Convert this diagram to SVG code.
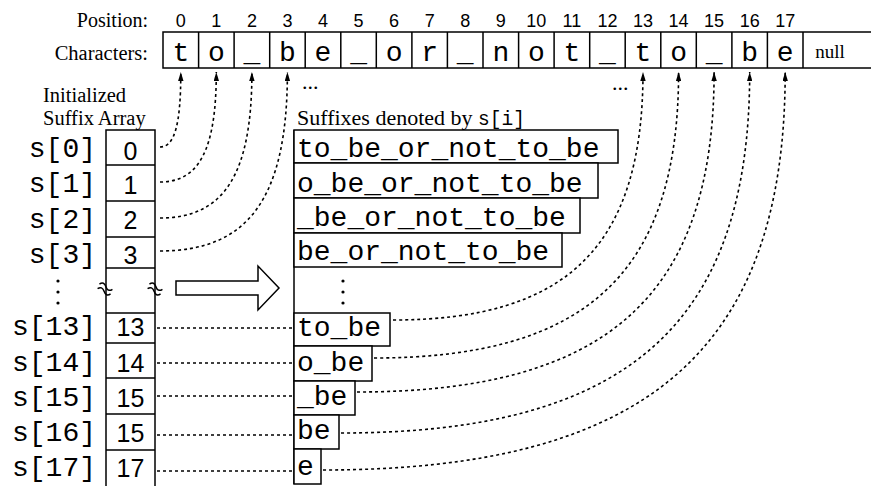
<svg xmlns="http://www.w3.org/2000/svg" width="871" height="486" viewBox="0 0 871 486">
<style>
.box{fill:#fff;stroke:#000;stroke-width:1.5}
.ln{fill:none;stroke:#000;stroke-width:1.5}
.dot{fill:none;stroke:#000;stroke-width:1.6;stroke-dasharray:3 3}
.ser{font-family:"Liberation Serif","Times New Roman",serif;fill:#000}
.mono{font-family:"Liberation Mono","Courier New",monospace;fill:#000}
.sans{font-family:"Liberation Sans",Arial,sans-serif;fill:#000}
.pos{font-size:18px;text-anchor:middle}
.ch{font-size:28px;text-anchor:middle}
.num{font-size:25px;text-anchor:middle}
.lab{font-size:28px;text-anchor:end}
.suf{font-size:28px}
</style>
<defs>
<marker id="ah" markerUnits="userSpaceOnUse" markerWidth="9" markerHeight="5.4" viewBox="0 0 10 6" refX="10" refY="3" orient="auto"><path d="M0,0 L10,3 L0,6 z" fill="#000"/></marker>
<path id="brk" d="M-7,-2.5c2,-3 4.5,-3 7,0s5,3 7,0M-7,2.5c2,-3 4.5,-3 7,0s5,3 7,0" fill="none" stroke="#000" stroke-width="1.5"/>
</defs>
<rect width="871" height="486" fill="#fff"/>

<g id="labels">
<text class="ser" x="148" y="27" font-size="20" text-anchor="end">Position:</text>
<text class="ser" x="148" y="60" font-size="20.5" text-anchor="end">Characters:</text>
<text class="ser" x="43" y="102" font-size="20.5">Initialized</text>
<text class="ser" x="43" y="125" font-size="20.5">Suffix Array</text>
<text class="ser" x="297" y="125" font-size="22">Suffixes denoted by <tspan class="mono" font-size="19.5">s[i]</tspan></text>
<text class="ser" x="302" y="89" font-size="22">...</text>
<text class="ser" x="612" y="90" font-size="22">...</text>
</g>

<g id="positions" class="sans pos">
<text x="180.8" y="27">0</text><text x="216.3" y="27">1</text><text x="251.9" y="27">2</text><text x="287.4" y="27">3</text>
<text x="323" y="27">4</text><text x="358.6" y="27">5</text><text x="394.1" y="27">6</text><text x="429.7" y="27">7</text>
<text x="465.2" y="27">8</text><text x="500.8" y="27">9</text><text x="536.3" y="27">10</text><text x="571.9" y="27">11</text>
<text x="607.4" y="27">12</text><text x="643" y="27">13</text><text x="678.6" y="27">14</text><text x="714.1" y="27">15</text>
<text x="749.7" y="27">16</text><text x="785.2" y="27">17</text>
</g>

<g id="characters">
<rect class="box" x="163" y="32" width="712" height="36"/>
<path class="ln" d="M198.6,32V68M234.1,32V68M269.7,32V68M305.2,32V68M340.8,32V68M376.3,32V68M411.9,32V68M447.4,32V68M483,32V68M518.6,32V68M554.1,32V68M589.7,32V68M625.2,32V68M660.8,32V68M696.3,32V68M731.9,32V68M767.4,32V68M803,32V68"/>
<g class="mono ch">
<text x="180.8" y="61">t</text><text x="216.3" y="61">o</text><text x="251.9" y="61">_</text><text x="287.4" y="61">b</text>
<text x="323" y="61">e</text><text x="358.6" y="61">_</text><text x="394.1" y="61">o</text><text x="429.7" y="61">r</text>
<text x="465.2" y="61">_</text><text x="500.8" y="61">n</text><text x="536.3" y="61">o</text><text x="571.9" y="61">t</text>
<text x="607.4" y="61">_</text><text x="643" y="61">t</text><text x="678.6" y="61">o</text><text x="714.1" y="61">_</text>
<text x="749.7" y="61">b</text><text x="785.2" y="61">e</text>
</g>
<text class="ser" x="830" y="58" font-size="19" text-anchor="middle">null</text>
</g>

<g id="suffix-array">
<rect class="box" x="106" y="130" width="49" height="360"/>
<path class="ln" d="M106,165H155M106,201H155M106,237H155M106,268H155M106,313H155M106,343H155M106,378H155M106,414H155M106,450H155"/>
<g class="sans num">
<text x="130.5" y="160">0</text><text x="130.5" y="194">1</text><text x="130.5" y="229">2</text><text x="130.5" y="264">3</text>
<text x="130.5" y="336">13</text><text x="130.5" y="372">14</text><text x="130.5" y="407">15</text><text x="130.5" y="442">15</text><text x="130.5" y="477">17</text>
</g>
<use href="#brk" transform="translate(105,289) rotate(22)"/>
<use href="#brk" transform="translate(155,289) rotate(22)"/>
</g>

<g id="index-labels" class="mono lab">
<text x="96" y="157">s[0]</text><text x="96" y="192">s[1]</text><text x="96" y="228">s[2]</text><text x="96" y="263">s[3]</text>
<text x="96" y="335">s[13]</text><text x="96" y="371">s[14]</text><text x="96" y="406">s[15]</text><text x="96" y="441">s[16]</text><text x="96" y="476">s[17]</text>
<circle cx="58" cy="281" r="1.6"/><circle cx="58" cy="292" r="1.6"/><circle cx="58" cy="303" r="1.6"/>
</g>

<g id="arrow">
<polygon class="box" points="176,281 258,281 258,266 279,288 258,310 258,295 176,295"/>
</g>

<g id="suffixes">
<path class="ln" d="M294,130V484"/>
<rect class="box" x="294" y="130" width="324" height="33"/>
<rect class="box" x="294" y="163" width="304" height="35"/>
<rect class="box" x="294" y="198" width="286" height="35"/>
<rect class="box" x="294" y="233" width="268" height="34"/>
<rect class="box" x="294" y="313" width="96" height="33"/>
<rect class="box" x="294" y="346" width="78" height="35"/>
<rect class="box" x="294" y="381" width="61" height="34"/>
<rect class="box" x="294" y="415" width="45" height="34"/>
<rect class="box" x="294" y="449" width="27" height="35"/>
<g class="mono suf">
<text x="297" y="157">to_be_or_not_to_be</text>
<text x="297" y="192">o_be_or_not_to_be</text>
<text x="297" y="226">_be_or_not_to_be</text>
<text x="297" y="260">be_or_not_to_be</text>
<text x="297" y="336">to_be</text>
<text x="297" y="371">o_be</text>
<text x="297" y="405">_be</text>
<text x="297" y="439">be</text>
<text x="297" y="475">e</text>
</g>
<circle cx="343" cy="281" r="1.6"/><circle cx="343" cy="292" r="1.6"/><circle cx="343" cy="303" r="1.6"/>
</g>

<g id="connectors" class="dot">
<path marker-end="url(#ah)" d="M160,147C174.6,147 180.8,124.5 180.8,72"/>
<path marker-end="url(#ah)" d="M160,182C199.4,182 216.3,149 216.3,72"/>
<path marker-end="url(#ah)" d="M160,218C224.3,218 251.9,174.2 251.9,72"/>
<path marker-end="url(#ah)" d="M160,251C249.2,251 287.4,197.3 287.4,72"/>
<path d="M157,328H293M157,363H293M157,396H293M157,435H293M157,471H293"/>
<path marker-end="url(#ah)" d="M393,320C568,320 643,245.6 643,72"/>
<path marker-end="url(#ah)" d="M374,358C587.2,358 678.6,272.2 678.6,72"/>
<path marker-end="url(#ah)" d="M357,392C607,392 714.1,296 714.1,72"/>
<path marker-end="url(#ah)" d="M341,433C627.1,433 749.7,324.7 749.7,72"/>
<path marker-end="url(#ah)" d="M323,470C646.5,470 785.2,350.6 785.2,72"/>
</g>
</svg>
